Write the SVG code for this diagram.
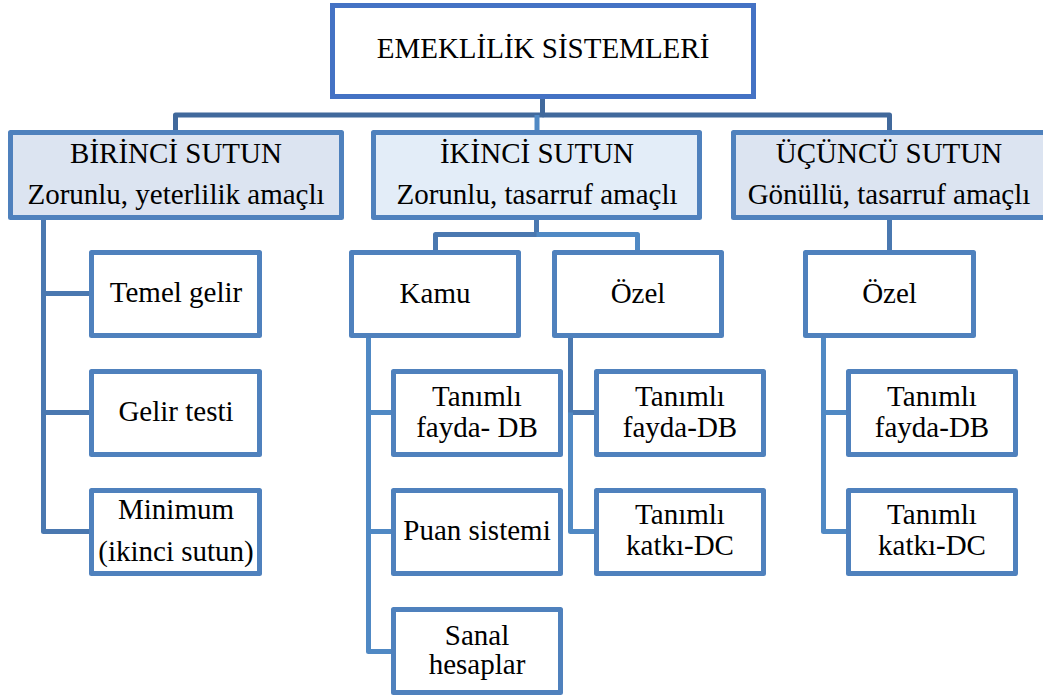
<svg xmlns="http://www.w3.org/2000/svg" width="1043" height="697" viewBox="0 0 1043 697">
<style>
  .box{fill:#ffffff;stroke:#4F81BD;stroke-width:5;stroke-linejoin:round}
  .top{fill:#ffffff;stroke:#4472C4;stroke-width:5}
  .lvl1{fill:#DCE4F1;stroke:#4F81BD;stroke-width:5;stroke-linejoin:round}
  .lvl1b{fill:#E3EDF8;stroke:#4F81BD;stroke-width:5;stroke-linejoin:round}
  text{font-family:'Liberation Serif','DejaVu Serif',serif;font-size:29px;fill:#000;text-anchor:middle}
  .c{fill:none;stroke-width:5;stroke-linejoin:round}
  .dk{stroke:#41699C}
  .md{stroke:#4A78B0}
  .lt{stroke:#5089C4}
</style>
<rect width="1043" height="697" fill="#ffffff"/>
<g id="connectors">
  <path class="c dk" d="M542.5 99 V115 H175.5 V130"/>
  <path class="c dk" d="M542.5 115 H889.5 V130"/>
  <path class="c lt" d="M537 115 V130"/>
  <path class="c md" d="M43.5 220 V531.5 H89 M43.5 293.5 H89 M43.5 412.5 H89"/>
  <path class="c md" d="M536.5 220 V234.5 H435.5 V250"/>
  <path class="c lt" d="M536.5 234.5 H637.5 V250"/>
  <path class="c lt" d="M368.5 338 V651.5 H391 M368.5 412.5 H391 M368.5 531.5 H391"/>
  <path class="c md" d="M570.5 338 V412.5 H594"/>
  <path class="c lt" d="M570.5 412.5 V531.5 H594"/>
  <path class="c md" d="M889.5 220 V250"/>
  <path class="c lt" d="M823.5 338 V531.5 H846 M823.5 412.5 H846"/>
</g>
<g font-family="Liberation Serif, DejaVu Serif, serif">
<g id="root"><rect class="top" x="332.5" y="5.5" width="421" height="91"/><text x="543" y="58">EMEKLİLİK SİSTEMLERİ</text></g>
<g id="birinci"><rect class="lvl1" x="10.5" y="132.5" width="331" height="85"/><text x="176" y="163">BİRİNCİ SUTUN</text><text x="176" y="204">Zorunlu, yeterlilik amaçlı</text></g>
<g id="ikinci"><rect class="lvl1b" x="373.5" y="132.5" width="326" height="85"/><text x="537" y="163">İKİNCİ SUTUN</text><text x="537" y="204">Zorunlu, tasarruf amaçlı</text></g>
<g id="ucuncu"><rect class="lvl1" x="733.5" y="132.5" width="330" height="85"/><text x="889" y="163">ÜÇÜNCÜ SUTUN</text><text x="889" y="204">Gönüllü, tasarruf amaçlı</text></g>
<g id="temel"><rect class="box" x="91.5" y="252.5" width="168" height="83"/><text x="176" y="302">Temel gelir</text></g>
<g id="gelirtesti"><rect class="box" x="91.5" y="371.5" width="168" height="83"/><text x="176" y="421">Gelir testi</text></g>
<g id="minimum"><rect class="box" x="91.5" y="490.5" width="168" height="83"/><text x="176" y="519">Minimum</text><text x="176" y="561">(ikinci sutun)</text></g>
<g id="kamu"><rect class="box" x="351.5" y="252.5" width="167" height="83"/><text x="435" y="303">Kamu</text></g>
<g id="ozel2"><rect class="box" x="554.5" y="252.5" width="167" height="83"/><text x="638" y="303">Özel</text></g>
<g id="kamu-db"><rect class="box" x="393.5" y="371.5" width="167" height="83"/><text x="477" y="406">Tanımlı</text><text x="477" y="437">fayda- DB</text></g>
<g id="puan"><rect class="box" x="393.5" y="490.5" width="167" height="83"/><text x="477" y="540">Puan sistemi</text></g>
<g id="sanal"><rect class="box" x="393.5" y="609.5" width="167" height="83"/><text x="477" y="645">Sanal</text><text x="477" y="674">hesaplar</text></g>
<g id="ozel2-db"><rect class="box" x="596.5" y="371.5" width="167" height="83"/><text x="680" y="406">Tanımlı</text><text x="680" y="437">fayda-DB</text></g>
<g id="ozel2-dc"><rect class="box" x="596.5" y="490.5" width="167" height="83"/><text x="680" y="524">Tanımlı</text><text x="680" y="555">katkı-DC</text></g>
<g id="ozel3"><rect class="box" x="805.5" y="252.5" width="168" height="83"/><text x="889.5" y="303">Özel</text></g>
<g id="ozel3-db"><rect class="box" x="848.5" y="371.5" width="167" height="83"/><text x="932" y="406">Tanımlı</text><text x="932" y="437">fayda-DB</text></g>
<g id="ozel3-dc"><rect class="box" x="848.5" y="490.5" width="167" height="83"/><text x="932" y="524">Tanımlı</text><text x="932" y="555">katkı-DC</text></g>
</g>
</svg>
